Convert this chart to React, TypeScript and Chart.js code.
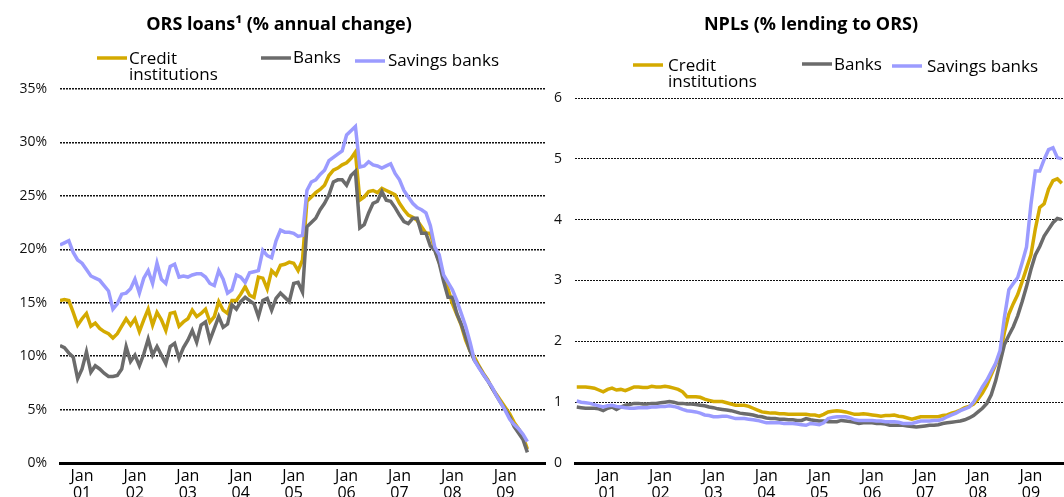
import React, { useEffect, useRef } from "react";
import { Chart, registerables } from "chart.js";

Chart.register(...registerables);

// Month index 0 = Jan 2001
const LOANS_START = -5; // Aug 2000
const NPL_START = -7; // Jun 2000

const yearLabels = ["01", "02", "03", "04", "05", "06", "07", "08", "09"];
const janMonths = yearLabels.map((_, i) => i * 12);

const seriesNames = ["Credit institutions", "Banks", "Savings banks"];
const seriesColors = ["#d4aa00", "#6b6b6b", "#9b9bff"];

// ORS loans, % annual change (monthly, Aug 2000 - Jun 2009)
const loansCredit = [
  15.2, 15.3, 15.2, 14.1, 12.9,
  13.5, 14.0, 12.8, 13.1, 12.6, 12.3, 12.1, 11.7, 12.1, 12.8, 13.5, 12.9,
  13.5, 12.3, 13.4, 14.4, 12.9, 14.1, 13.4, 12.4, 14.0, 14.1, 12.8, 13.2,
  13.5, 14.3, 13.7, 14.0, 14.4, 13.2, 13.7, 15.1, 14.3, 14.0, 15.2, 15.2,
  15.8, 16.5, 15.7, 15.5, 17.4, 17.3, 16.3, 18.0, 17.6, 18.5, 18.6, 18.8,
  18.7, 18.0, 19.0, 24.5, 24.9, 25.3, 25.6, 26.0, 26.9, 27.4, 27.6, 27.9,
  28.1, 28.5, 29.1, 24.6, 24.9, 25.4, 25.5, 25.3, 25.7, 25.5, 25.3, 25.1,
  24.3, 23.7, 23.2, 23.0, 22.7, 22.1, 21.5, 21.5, 20.0, 18.8, 17.5, 16.3,
  14.9, 13.9, 12.9, 11.5, 10.5, 9.9, 9.1, 8.4, 7.8, 7.0, 6.4, 5.8,
  5.2, 4.6, 3.8, 3.2, 2.5, 1.3,
];
const loansBanks = [
  11.0, 10.8, 10.3, 9.9, 7.9,
  8.8, 10.4, 8.5, 9.1, 8.8, 8.4, 8.1, 8.1, 8.2, 8.8, 10.9, 9.5,
  10.1, 9.1, 10.2, 11.6, 10.1, 10.9, 10.1, 9.3, 10.9, 11.2, 9.8, 10.8,
  11.5, 12.4, 11.3, 12.9, 13.2, 11.5, 12.6, 13.7, 12.7, 13.0, 14.8, 14.4,
  15.1, 15.5, 15.2, 14.9, 13.7, 15.2, 15.4, 14.3, 15.4, 15.9, 15.5, 15.1,
  16.8, 16.9, 16.0, 22.1, 22.5, 22.9, 23.7, 24.3, 25.1, 26.3, 26.5, 26.5,
  26.0, 26.9, 27.3, 22.0, 22.3, 23.4, 24.3, 24.5, 25.4, 24.6, 24.5, 23.9,
  23.2, 22.6, 22.4, 22.9, 22.9, 21.5, 21.5, 20.3, 19.9, 18.7, 17.0, 15.5,
  15.5, 14.0, 13.0, 11.8, 10.5, 9.6, 9.0, 8.3, 7.7, 7.0, 6.3, 5.6,
  5.0, 4.3, 3.4, 2.8, 2.2, 1.0,
];
const loansSavings = [
  20.4, 20.6, 20.8, 19.7, 19.0,
  18.7, 18.1, 17.5, 17.3, 17.1, 16.6, 16.1, 14.4, 14.9, 15.8, 15.9, 16.3,
  17.2, 15.9, 17.3, 18.0, 16.8, 18.7, 17.2, 16.8, 18.4, 18.6, 17.4, 17.5,
  17.4, 17.6, 17.7, 17.7, 17.4, 16.8, 16.6, 18.0, 17.2, 15.9, 16.2, 17.6,
  17.4, 16.9, 17.8, 17.9, 18.0, 19.9, 19.4, 19.2, 20.8, 21.8, 21.6, 21.6,
  21.5, 21.2, 21.3, 25.5, 26.3, 26.5, 27.0, 27.4, 28.3, 28.6, 28.9, 29.2,
  30.7, 31.1, 31.5, 27.7, 27.8, 28.2, 27.9, 27.8, 27.6, 27.8, 28.0, 27.1,
  26.5, 25.5, 24.9, 24.3, 23.9, 23.7, 23.4, 22.2, 20.2, 19.5, 17.6, 16.9,
  16.2, 15.2, 14.0, 12.8, 11.3, 9.6, 8.9, 8.3, 7.7, 7.1, 6.3, 5.6,
  4.9, 4.1, 3.6, 3.2, 2.7, 2.0,
];

// NPLs, % lending to ORS (monthly, Jun 2000 - Aug 2009)
const nplCredit = [
  1.25, 1.25, 1.25, 1.24, 1.23, 1.2, 1.17,
  1.21, 1.23, 1.2, 1.21, 1.19, 1.22, 1.25, 1.25, 1.24, 1.24, 1.26, 1.25,
  1.25, 1.26, 1.25, 1.23, 1.21, 1.17, 1.09, 1.09, 1.09, 1.08, 1.05, 1.03,
  1.01, 1.01, 1.01, 0.99, 0.97, 0.95, 0.95, 0.95, 0.93, 0.9, 0.87, 0.84,
  0.83, 0.82, 0.82, 0.81, 0.81, 0.8, 0.8, 0.8, 0.8, 0.8, 0.79, 0.79,
  0.77, 0.8, 0.84, 0.85, 0.86, 0.85, 0.84, 0.82, 0.8, 0.8, 0.81, 0.8,
  0.79, 0.78, 0.77, 0.78, 0.78, 0.79, 0.77, 0.76, 0.74, 0.72, 0.74, 0.76,
  0.76, 0.76, 0.76, 0.76, 0.78, 0.79, 0.82, 0.84, 0.87, 0.91, 0.93, 0.97,
  1.05, 1.15, 1.28, 1.45, 1.62, 1.78, 2.15, 2.45, 2.62, 2.77, 2.98, 3.2,
  3.42, 3.85, 4.2, 4.26, 4.5, 4.64, 4.67, 4.6,
];
const nplBanks = [
  0.92, 0.91, 0.9, 0.9, 0.9, 0.89, 0.86,
  0.9, 0.92, 0.88, 0.92, 0.95, 0.96, 0.98, 0.98, 0.97, 0.97, 0.98, 0.98,
  0.99, 1.0, 1.01, 1.0, 0.98, 0.98, 0.97, 0.97, 0.96, 0.95, 0.94, 0.92,
  0.91, 0.89, 0.88, 0.87, 0.86, 0.84, 0.82, 0.81, 0.8, 0.79, 0.77, 0.76,
  0.74, 0.73, 0.73, 0.72, 0.72, 0.71, 0.71, 0.7, 0.7, 0.73, 0.71, 0.7,
  0.69, 0.69, 0.68, 0.68, 0.68, 0.7, 0.69, 0.68, 0.67, 0.65, 0.66, 0.66,
  0.66, 0.65, 0.65, 0.64, 0.62, 0.62, 0.62, 0.62, 0.61, 0.6, 0.59, 0.6,
  0.61, 0.62, 0.62, 0.63, 0.65, 0.66, 0.67, 0.68, 0.69, 0.71, 0.74, 0.78,
  0.84, 0.9, 0.98, 1.12, 1.35, 1.65, 1.95, 2.1, 2.24, 2.42, 2.65, 2.9,
  3.18, 3.42, 3.56, 3.73, 3.84, 3.95, 4.02, 4.0,
];
const nplSavings = [
  1.02, 1.0, 0.99, 0.98, 0.96, 0.94, 0.92,
  0.94, 0.95, 0.93, 0.92, 0.91, 0.9, 0.9, 0.91, 0.91, 0.91, 0.92, 0.92,
  0.93, 0.93, 0.94, 0.93, 0.91, 0.88, 0.86, 0.85, 0.84, 0.82, 0.79, 0.78,
  0.76, 0.76, 0.77, 0.77, 0.75, 0.73, 0.73, 0.73, 0.72, 0.71, 0.7, 0.68,
  0.66, 0.66, 0.66, 0.66, 0.65, 0.65, 0.65, 0.64, 0.63, 0.62, 0.65, 0.64,
  0.63, 0.66, 0.73, 0.75, 0.76, 0.76, 0.76, 0.74, 0.71, 0.7, 0.7, 0.7,
  0.7, 0.69, 0.69, 0.68, 0.68, 0.68, 0.67, 0.65, 0.65, 0.65, 0.67, 0.69,
  0.69, 0.69, 0.7, 0.7, 0.72, 0.76, 0.79, 0.82, 0.86, 0.89, 0.92, 1.0,
  1.12, 1.25, 1.36, 1.5, 1.64, 1.85, 2.4, 2.85, 2.95, 3.05, 3.29, 3.55,
  4.25, 4.8, 4.8, 4.99, 5.15, 5.18, 5.02, 5.0,
];

const FONT = '"Open Sans", "Noto Sans", sans-serif';

type LegendPos = { lx: number; ly: number; tx: number; ty: number };

type PanelProps = {
  title: string;
  titleX: number;
  start: number;
  series: number[][];
  xMin: number;
  xMax: number;
  yMax: number;
  yStep: number;
  yFmt: (v: number) => string;
  width: number;
  height: number;
  padTop: number;
  padRight: number;
  yAxisW: number;
  xAxisH: number;
  gridWidth: number;
  legend: LegendPos[];
};

function makeDecor(p: PanelProps) {
  return {
    id: "decor",
    afterDraw(chart: any) {
      const ctx = chart.ctx as CanvasRenderingContext2D;
      ctx.save();
      ctx.fillStyle = "#000";
      ctx.textBaseline = "middle";
      ctx.textAlign = "center";
      ctx.font = `bold 18px ${FONT}`;
      ctx.fillText(p.title, p.titleX, 25);
      ctx.textAlign = "left";
      ctx.font = `17px ${FONT}`;
      p.legend.forEach((L, i) => {
        ctx.strokeStyle = seriesColors[i];
        ctx.lineWidth = 3.5;
        ctx.beginPath();
        ctx.moveTo(L.lx, L.ly);
        ctx.lineTo(L.lx + 30, L.ly);
        ctx.stroke();
        const words = i === 0 ? ["Credit", "institutions"] : [seriesNames[i]];
        words.forEach((w, k) => ctx.fillText(w, L.tx, L.ty + k * 16));
      });
      ctx.restore();
    },
  };
}

function Panel(p: PanelProps) {
  const ref = useRef<HTMLCanvasElement>(null);
  useEffect(() => {
    if (!ref.current) return;
    const order = [2, 1, 0];
    const chart = new Chart(ref.current, {
      type: "line",
      data: {
        datasets: p.series.map((vals, si) => ({
          label: seriesNames[si],
          data: vals.map((v, i) => ({ x: p.start + i, y: v })),
          borderColor: seriesColors[si],
          backgroundColor: seriesColors[si],
          borderWidth: 3.5,
          pointRadius: 0,
          tension: 0,
          fill: false,
          order: order[si],
        })),
      },
      options: {
        animation: false,
        responsive: false,
        maintainAspectRatio: false,
        layout: { padding: { top: p.padTop, right: p.padRight, left: 0, bottom: 0 } },
        plugins: {
          legend: { display: false },
          tooltip: { enabled: false },
          title: { display: false },
        },
        scales: {
          x: {
            type: "linear",
            min: p.xMin,
            max: p.xMax,
            grid: { display: false, drawTicks: false },
            border: { display: true, color: "#000", width: 3 },
            afterBuildTicks: (s: any) => {
              s.ticks = janMonths.map((v) => ({ value: v }));
            },
            afterFit: (s: any) => {
              s.height = p.xAxisH;
            },
            ticks: {
              autoSkip: false,
              maxRotation: 0,
              minRotation: 0,
              padding: 5,
              color: "#000",
              font: { family: FONT, size: 16, lineHeight: 1.05 },
              callback: (v: any) => {
                const k = janMonths.indexOf(Number(v));
                return k >= 0 ? ["Jan", yearLabels[k]] : "";
              },
            },
          },
          y: {
            min: 0,
            max: p.yMax,
            grid: {
              drawTicks: false,
              lineWidth: p.gridWidth,
              color: (c: any) => (c.tick && c.tick.value === 0 ? "rgba(0,0,0,0)" : "#111"),
            },
            border: { display: false, dash: [2, 1] },
            afterFit: (s: any) => {
              s.width = p.yAxisW;
            },
            ticks: {
              stepSize: p.yStep,
              padding: 13,
              color: "#111",
              font: { family: FONT, size: 14 },
              callback: (v: any) => p.yFmt(Number(v)),
            },
          },
        },
      },
      plugins: [makeDecor(p)],
    } as any);
    return () => chart.destroy();
  }, []);
  return (
    <canvas
      ref={ref}
      width={p.width}
      height={p.height}
      style={{ width: p.width, height: p.height, display: "block" }}
    />
  );
}

export default function App() {
  return (
    <div
      style={{
        position: "fixed",
        left: 0,
        top: 0,
        width: 1064,
        height: 497,
        overflow: "hidden",
        background: "#fff",
      }}
    >
      <div style={{ position: "absolute", left: 0, top: 0 }}>
        <Panel
          title="ORS loans¹ (% annual change)"
          titleX={279}
          start={LOANS_START}
          series={[loansCredit, loansBanks, loansSavings]}
          xMin={-5}
          xMax={105}
          yMax={35}
          yStep={5}
          yFmt={(v) => `${v}%`}
          width={548}
          height={510}
          padTop={89}
          padRight={3}
          yAxisW={60}
          xAxisH={47}
          gridWidth={1.4}
          legend={[
            { lx: 97, ly: 58, tx: 129, ty: 59 },
            { lx: 261, ly: 58, tx: 293, ty: 58 },
            { lx: 355, ly: 61, tx: 388, ty: 61 },
          ]}
        />
      </div>
      <div style={{ position: "absolute", left: 532, top: 0 }}>
        <Panel
          title="NPLs (% lending to ORS)"
          titleX={279}
          start={NPL_START}
          series={[nplCredit, nplBanks, nplSavings]}
          xMin={-7.4}
          xMax={103.5}
          yMax={6}
          yStep={1}
          yFmt={(v) => `${v}`}
          width={532}
          height={510}
          padTop={98}
          padRight={0}
          yAxisW={43}
          xAxisH={47}
          gridWidth={1}
          legend={[
            { lx: 101, ly: 65, tx: 136, ty: 66 },
            { lx: 270, ly: 64, tx: 302, ty: 65 },
            { lx: 360, ly: 66, tx: 395, ty: 67 },
          ]}
        />
      </div>
    </div>
  );
}
